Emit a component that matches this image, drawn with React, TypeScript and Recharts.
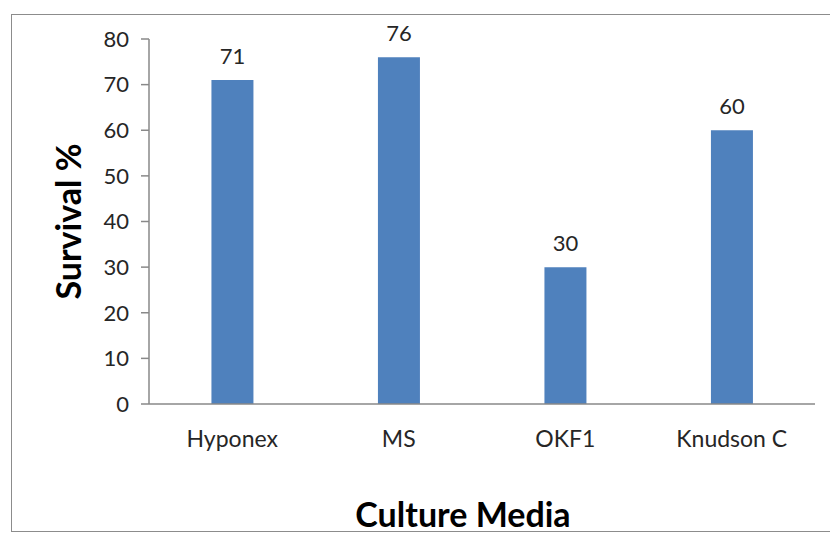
import React from "react";
import { BarChart, Bar, XAxis, YAxis, LabelList, Label } from "recharts";

const categories = ["Hyponex", "MS", "OKF1", "Knudson C"];
const survival = [71, 76, 30, 60];
const yTicks = [0, 10, 20, 30, 40, 50, 60, 70, 80];

const data = categories.map((name, i) => ({ name, value: survival[i] }));

const FONT = "Lato, 'Open Sans', sans-serif";
const AXIS = "#898989";
const TEXT = "#262626";

export default function App() {
  return (
    <div style={{ position: "absolute", left: 0, top: 0, width: 830, height: 535, background: "#fff" }}>
      <div
        style={{
          position: "absolute",
          left: 11,
          top: 14,
          width: 830,
          height: 518,
          border: "1.5px solid #8c8c8c",
          boxSizing: "border-box",
        }}
      />
      <div style={{ position: "absolute", left: 0, top: 0 }}>
        <BarChart
          width={830}
          height={535}
          data={data}
          margin={{ top: 39, right: 15, bottom: 71, left: 89 }}
          barCategoryGap="37.5%"
        >
          <XAxis
            dataKey="name"
            axisLine={{ stroke: AXIS, strokeWidth: 1.5 }}
            tickLine={false}
            tickMargin={21}
            tick={{ fill: TEXT, fontSize: 23, fontFamily: FONT }}
            height={60}
          >
            <Label
              content={(props: any) => {
                const vb = props.viewBox;
                return (
                  <text
                    x={vb.x + vb.width / 2 - 19}
                    y={527}
                    textAnchor="middle"
                    fontFamily={FONT}
                    fontWeight="bold"
                    fontSize={34}
                    fill="#000"
                  >
                    Culture Media
                  </text>
                );
              }}
            />
          </XAxis>
          <YAxis
            domain={[0, 80]}
            ticks={yTicks}
            interval={0}
            width={60}
            axisLine={{ stroke: AXIS, strokeWidth: 1.5 }}
            tickLine={{ stroke: AXIS, strokeWidth: 1.5 }}
            tickSize={8}
            tickMargin={12}
            tick={{ fill: TEXT, fontSize: 22, fontFamily: FONT }}
          >
            <Label
              content={(props: any) => {
                const vb = props.viewBox;
                const cx = 67;
                const cy = vb.y + vb.height / 2;
                return (
                  <text
                    x={cx}
                    y={cy}
                    transform={`rotate(-90, ${cx}, ${cy})`}
                    textAnchor="middle"
                    dominantBaseline="central"
                    fontFamily={FONT}
                    fontWeight="bold"
                    fontSize={34}
                    fill="#000"
                  >
                    Survival %
                  </text>
                );
              }}
            />
          </YAxis>
          <Bar dataKey="value" fill="#4F81BD" isAnimationActive={false}>
            <LabelList
              dataKey="value"
              position="top"
              offset={16}
              fill={TEXT}
              fontSize={22}
              fontFamily={FONT}
            />
          </Bar>
        </BarChart>
      </div>
    </div>
  );
}
